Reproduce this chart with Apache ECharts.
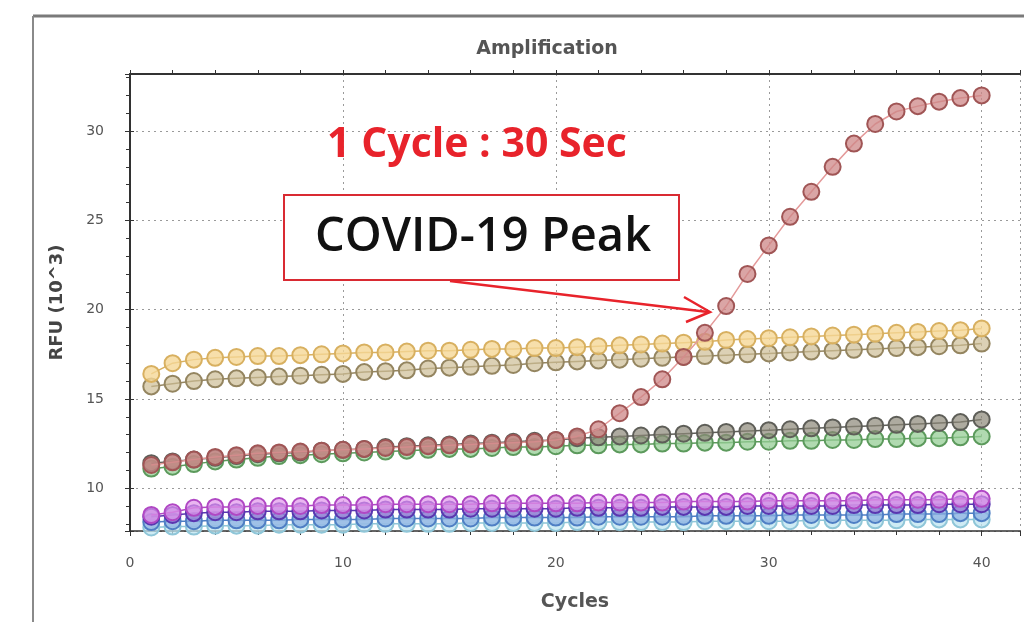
<!DOCTYPE html>
<html>
<head>
<meta charset="utf-8">
<script src="https://cdn.jsdelivr.net/npm/echarts@6/dist/echarts.min.js"></script>
<style>
html,body{margin:0;padding:0;background:#fff;}
#chart{width:1024px;height:622px;}
</style>
</head>
<body>
<div id="chart"></div>
<script>
var cycles = [1,2,3,4,5,6,7,8,9,10,11,12,13,14,15,16,17,18,19,20,21,22,23,24,25,26,27,28,29,30,31,32,33,34,35,36,37,38,39,40];
var covid = [11.3,11.45,11.6,11.75,11.85,11.95,12.0,12.05,12.1,12.15,12.2,12.25,12.3,12.35,12.4,12.45,12.5,12.55,12.6,12.7,12.9,13.3,14.2,15.1,16.1,17.35,18.7,20.2,22.0,23.6,25.2,26.6,28.0,29.3,30.4,31.1,31.4,31.65,31.85,32.0];
var yellowWell = [16.4,17.0,17.2,17.3,17.35,17.4,17.4,17.45,17.5,17.55,17.6,17.6,17.65,17.7,17.7,17.75,17.8,17.8,17.85,17.85,17.9,17.95,18.0,18.05,18.1,18.15,18.2,18.3,18.35,18.4,18.45,18.5,18.55,18.6,18.65,18.7,18.75,18.8,18.85,18.95];
var tanWell = [15.7,15.85,16.0,16.1,16.15,16.2,16.25,16.3,16.35,16.4,16.5,16.55,16.6,16.7,16.75,16.8,16.85,16.9,17.0,17.05,17.1,17.15,17.2,17.25,17.3,17.35,17.4,17.45,17.5,17.55,17.6,17.65,17.7,17.75,17.8,17.85,17.9,17.95,18.0,18.1];
var grayWell = [11.4,11.5,11.6,11.7,11.8,11.9,11.95,12.0,12.1,12.15,12.2,12.3,12.35,12.4,12.45,12.5,12.55,12.6,12.65,12.7,12.8,12.85,12.9,12.95,13.0,13.05,13.1,13.15,13.2,13.25,13.3,13.35,13.4,13.45,13.5,13.55,13.6,13.65,13.7,13.85];
var greenWell = [11.1,11.2,11.35,11.5,11.6,11.7,11.8,11.85,11.9,11.95,12.0,12.05,12.1,12.15,12.2,12.2,12.25,12.3,12.3,12.35,12.4,12.4,12.45,12.45,12.5,12.5,12.55,12.55,12.6,12.6,12.65,12.65,12.7,12.7,12.75,12.75,12.8,12.8,12.85,12.9];
var magentaWell = [8.5,8.65,8.9,8.95,8.95,9.0,9.0,9.0,9.05,9.05,9.05,9.1,9.1,9.1,9.1,9.1,9.15,9.15,9.15,9.15,9.15,9.2,9.2,9.2,9.2,9.25,9.25,9.25,9.25,9.3,9.3,9.3,9.3,9.3,9.35,9.35,9.35,9.35,9.4,9.4];
var violetWell = [8.4,8.5,8.6,8.65,8.65,8.7,8.7,8.7,8.75,8.75,8.75,8.8,8.8,8.8,8.8,8.85,8.85,8.85,8.85,8.85,8.9,8.9,8.9,8.9,8.95,8.95,8.95,8.95,9.0,9.0,9.0,9.0,9.0,9.05,9.05,9.05,9.05,9.1,9.1,9.1];
var blueWell = [8.1,8.15,8.15,8.2,8.2,8.2,8.2,8.25,8.25,8.25,8.25,8.3,8.3,8.3,8.3,8.3,8.35,8.35,8.35,8.35,8.35,8.4,8.4,8.4,8.4,8.4,8.45,8.45,8.45,8.45,8.5,8.5,8.5,8.5,8.5,8.55,8.55,8.55,8.6,8.6];
var cyanWell = [7.8,7.85,7.85,7.9,7.9,7.9,7.95,7.95,7.95,7.95,8.0,8.0,8.0,8.0,8.0,8.05,8.05,8.05,8.05,8.05,8.1,8.1,8.1,8.1,8.1,8.1,8.15,8.15,8.15,8.15,8.15,8.2,8.2,8.2,8.2,8.2,8.25,8.25,8.25,8.25];
var xTickLabels = ['0','10','20','30','40'];
var yTickLabels = ['10','15','20','25','30'];

function pts(arr){ return cycles.map(function(c,i){ return [c, arr[i]]; }); }

function well(name, arr, stroke, fill, line, z){
  return {
    name: name, type: 'line', data: pts(arr), z: z || 2,
    symbol: 'circle', symbolSize: 16,
    itemStyle: { color: fill, borderColor: stroke, borderWidth: 2 },
    lineStyle: { color: line || stroke, width: 1.5 },
    emphasis: { disabled: true }, animation: false
  };
}

var chart = echarts.init(document.getElementById('chart'));
var axisTxt = { color: '#555', fontSize: 14, fontFamily: 'DejaVu Sans' };
var split = { show: true, lineStyle: { color: '#9a9a9a', type: [2, 4], width: 1 } };
var option = {
  animation: false,
  backgroundColor: '#fff',
  title: {
    text: 'Amplification', left: 542, top: 35, textAlign: 'center',
    textStyle: { fontSize: 19, fontWeight: 'bold', color: '#555', fontFamily: 'DejaVu Sans' }
  },
  grid: { left: 130, top: 74, right: 4, bottom: 91, show: false },
  xAxis: [{
    type: 'value', min: 0, max: 41.8, interval: 10,
    name: 'Cycles', nameLocation: 'middle', nameGap: 62,
    nameTextStyle: { fontSize: 19, fontWeight: 'bold', color: '#555', fontFamily: 'DejaVu Sans' },
    axisLine: { show: true, lineStyle: { color: '#333', width: 1.5 } },
    axisTick: { show: true, length: 5, lineStyle: { color: '#333' } },
    minorTick: { show: true, splitNumber: 5, length: 4, lineStyle: { color: '#333' } },
    axisLabel: Object.assign({ margin: 25, formatter: function(v){ return xTickLabels.indexOf(String(v)) >= 0 ? String(v) : ''; } }, axisTxt),
    splitLine: split
  }, {
    type: 'value', min: 0, max: 41.8, interval: 10, position: 'top',
    axisLine: { show: true, lineStyle: { color: '#333', width: 2 } },
    axisTick: { show: true, length: 4, inside: false, lineStyle: { color: '#333' } },
    minorTick: { show: true, splitNumber: 5, length: 4, lineStyle: { color: '#333' } },
    axisLabel: { show: false }, splitLine: { show: false }
  }],
  yAxis: [{
    type: 'value', min: 7.6, max: 33.2, splitNumber: 5,
    name: 'RFU (10^3)', nameLocation: 'middle', nameGap: 64, nameRotate: 90,
    nameTextStyle: { fontSize: 18, fontWeight: 'bold', color: '#444', fontFamily: 'DejaVu Sans' },
    axisLine: { show: true, lineStyle: { color: '#333', width: 2 } },
    axisTick: { show: true, length: 5, lineStyle: { color: '#333' } },
    minorTick: { show: true, splitNumber: 5, length: 4, lineStyle: { color: '#333' } },
    axisLabel: Object.assign({ margin: 26, formatter: function(v){ return yTickLabels.indexOf(String(v)) >= 0 ? String(v) : ''; } }, axisTxt),
    splitLine: split
  }, {
    type: 'value', min: 7.6, max: 33.2, splitNumber: 5, position: 'right',
    axisLine: { show: true, lineStyle: { color: '#333', width: 1.5 } },
    axisTick: { show: true, length: 4, lineStyle: { color: '#333' } },
    axisLabel: { show: false }, splitLine: { show: false }
  }],
  series: [
    well('Cyan', cyanWell, '#8fc6d8', 'rgba(190,228,240,0.75)', null, 2),
    well('Blue', blueWell, '#4f7fc4', 'rgba(140,175,225,0.7)', null, 3),
    well('Violet', violetWell, '#5a36b0', 'rgba(150,120,210,0.7)', null, 4),
    well('Magenta', magentaWell, '#b048c4', 'rgba(225,150,235,0.7)', null, 5),
    well('Green', greenWell, '#5c9a5c', 'rgba(150,205,150,0.75)', null, 6),
    well('Gray', grayWell, '#5e5e58', 'rgba(140,135,120,0.7)', null, 7),
    well('Tan', tanWell, '#948560', 'rgba(205,190,150,0.7)', null, 8),
    well('Yellow', yellowWell, '#d8b060', 'rgba(245,215,150,0.8)', null, 9),
    well('COVID-19', covid, '#a05555', 'rgba(205,135,135,0.75)', '#e49a9a', 10)
  ],
  graphic: [
    { type: 'line', shape: { x1: 33, y1: 16, x2: 1024, y2: 16 }, style: { stroke: '#7a7a7a', lineWidth: 3 }, z: 100 },
    { type: 'line', shape: { x1: 33, y1: 16, x2: 33, y2: 622 }, style: { stroke: '#8a8a8a', lineWidth: 2 }, z: 100 },
    { type: 'text', x: 477, y: 145, z: 100,
      style: { text: '1 Cycle : 30 Sec', fill: '#e8232b', font: 'bold 41px "Open Sans"', align: 'center', verticalAlign: 'middle' } },
    { type: 'rect', shape: { x: 284, y: 195, width: 395, height: 85 }, z: 100,
      style: { fill: '#fff', stroke: '#d92a32', lineWidth: 2 } },
    { type: 'text', x: 483, y: 238, z: 101,
      style: { text: 'COVID-19 Peak', fill: '#111', font: '600 47px "Open Sans"', align: 'center', verticalAlign: 'middle' } },
    { type: 'line', shape: { x1: 450, y1: 281, x2: 708, y2: 312 }, z: 100, style: { stroke: '#e8232b', lineWidth: 2.5 } },
    { type: 'polyline', shape: { points: [[684, 297], [710, 312], [686, 322]] }, z: 100, style: { stroke: '#e8232b', lineWidth: 2.5, fill: null } }
  ]
};
chart.setOption(option);
</script>
</body>
</html>
